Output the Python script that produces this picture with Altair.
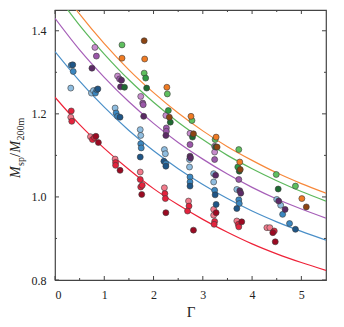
import altair as alt
import pandas as pd

# ---------------- data ----------------
curve_gamma = [0.0, 0.5, 1.0, 1.5, 2.0, 2.5, 3.0, 3.5, 4.0, 4.5, 5.0, 5.5]
curve_red    = [1.240, 1.174, 1.117, 1.066, 1.020, 0.981, 0.946, 0.915, 0.887, 0.863, 0.842, 0.823]
curve_blue   = [1.350, 1.279, 1.216, 1.160, 1.111, 1.068, 1.030, 0.996, 0.966, 0.940, 0.917, 0.896]
curve_purple = [1.430, 1.354, 1.288, 1.229, 1.177, 1.131, 1.091, 1.055, 1.023, 0.995, 0.971, 0.949]
curve_green  = [1.492, 1.413, 1.344, 1.282, 1.228, 1.180, 1.138, 1.100, 1.068, 1.039, 1.013, 0.990]
curve_orange = [1.520, 1.440, 1.369, 1.306, 1.251, 1.202, 1.159, 1.121, 1.088, 1.058, 1.032, 1.009]

red_g = [0.33, 0.32, 0.34, 0.72, 0.76, 0.80, 0.83, 0.88, 1.22, 1.23, 1.23, 1.32,
         1.73, 1.73, 1.74, 1.77, 1.76, 2.22, 2.23, 2.24, 2.25, 2.71, 2.72, 2.69, 2.81,
         3.22, 3.22, 3.24, 3.23, 3.27, 3.69, 3.72, 3.73, 3.79, 4.30, 4.36, 4.45, 4.42, 4.47]
red_v = [1.207, 1.192, 1.182, 1.145, 1.138, 1.143, 1.146, 1.131, 1.091, 1.083, 1.076, 1.064,
         1.060, 1.042, 1.024, 1.028, 1.006, 1.022, 1.008, 0.996, 0.962, 0.990, 0.978, 0.966, 0.920,
         0.970, 0.956, 0.941, 0.934, 0.962, 0.942, 0.934, 0.928, 0.940, 0.926, 0.926, 0.918, 0.914, 0.892]
red_s = ["m", "l", "m", "l", "m", "m", "d", "d", "l", "m", "m", "d",
         "l", "m", "m", "m", "d", "l", "m", "m", "d", "l", "m", "m", "d",
         "l", "l", "m", "m", "d", "l", "m", "m", "d", "l", "l", "m", "d", "d"]

blue_g = [0.32, 0.33, 0.36, 0.37, 0.74, 0.78, 0.82, 0.85, 0.87, 1.22, 1.24, 1.27, 1.32,
          1.73, 1.74, 1.74, 1.75, 1.73, 2.22, 2.24, 2.21, 2.25, 2.25, 2.73, 2.73, 2.74, 2.74, 2.74,
          3.22, 3.22, 3.24, 3.25, 3.27, 3.69, 3.73, 3.74, 3.69, 4.50, 4.58, 4.62, 4.76, 4.88]
blue_v = [1.262, 1.317, 1.318, 1.302, 1.250, 1.256, 1.250, 1.258, 1.260, 1.214, 1.202, 1.194, 1.192,
          1.162, 1.148, 1.128, 1.118, 1.096, 1.114, 1.104, 1.086, 1.080, 1.074, 1.090, 1.072, 1.048, 1.036, 1.026,
          1.056, 1.036, 1.016, 1.005, 0.982, 1.018, 0.993, 0.984, 0.972, 0.994, 0.980, 0.958, 0.936, 0.922]
blue_s = ["l", "m", "d", "m", "l", "l", "m", "m", "d", "l", "m", "m", "d",
          "l", "l", "m", "m", "d", "l", "l", "d", "m", "d", "l", "l", "m", "m", "d",
          "l", "l", "m", "d", "d", "l", "m", "m", "d", "l", "l", "m", "m", "d"]

purple_g = [0.81, 0.84, 0.75, 1.27, 1.31, 1.35, 1.33, 1.74, 1.78, 1.79, 1.80,
            2.25, 2.26, 2.26, 2.25, 2.74, 2.74, 2.74, 2.75, 3.24, 3.24, 3.24, 3.26,
            3.73, 3.75, 3.77, 4.54, 4.67]
purple_v = [1.360, 1.339, 1.310, 1.291, 1.284, 1.281, 1.265, 1.242, 1.226, 1.222, 1.194,
            1.196, 1.166, 1.158, 1.148, 1.153, 1.126, 1.098, 1.094, 1.122, 1.108, 1.090, 1.052,
            1.042, 1.015, 1.009, 0.990, 0.970]
purple_s = ["l", "m", "d", "l", "m", "d", "d", "l", "m", "m", "d",
            "l", "m", "m", "d", "l", "m", "d", "d", "l", "l", "m", "d",
            "m", "d", "d", "d", "d"]

green_g = [1.36, 1.41, 1.81, 1.84, 1.86, 2.28, 2.30, 2.34, 2.78, 2.79, 3.25, 3.26,
           3.73, 3.71, 3.74, 4.49, 4.53, 4.88]
green_v = [1.366, 1.264, 1.298, 1.286, 1.262, 1.248, 1.208, 1.180, 1.184, 1.144, 1.138, 1.120,
           1.114, 1.072, 1.062, 1.054, 1.019, 1.026]
green_s = ["l", "d", "l", "m", "d", "l", "m", "d", "l", "d", "l", "d",
           "l", "m", "d", "l", "d", "l"]

orange_g = [1.81, 1.82, 1.36, 2.27, 2.32, 2.76, 2.81, 3.27, 3.29, 3.75, 3.76, 5.01, 5.10]
orange_v = [1.376, 1.332, 1.334, 1.264, 1.192, 1.194, 1.152, 1.144, 1.120, 1.084, 1.066, 0.996, 0.976]
orange_s = ["d", "l", "l", "l", "d", "l", "d", "l", "d", "l", "d", "l", "d"]

x_major = [0, 1, 2, 3, 4, 5]
x_minor = [0.5, 1.5, 2.5, 3.5, 4.5]
y_major = [0.8, 1.0, 1.2, 1.4]
y_minor = [0.9, 1.1, 1.3]

# ---------------- styles ----------------
line_colors = {"red": "#ee2238", "blue": "#4a8fc8", "purple": "#a65fb8",
               "green": "#5cb85c", "orange": "#f7883a"}
shade_colors = {
    "red": {"l": "#f27b8c", "m": "#e3233d", "d": "#9b0a22"},
    "blue": {"l": "#8fbde0", "m": "#3b87c0", "d": "#1f5687"},
    "purple": {"l": "#c68bcc", "m": "#9b57a9", "d": "#5c2a66"},
    "green": {"l": "#5fbf5f", "m": "#2f9a43", "d": "#1f6a32"},
    "orange": {"l": "#ef7b24", "m": "#ef7b24", "d": "#8c4413"},
}

rows = []
for name, vals in [("red", curve_red), ("blue", curve_blue), ("purple", curve_purple),
                   ("green", curve_green), ("orange", curve_orange)]:
    for g, v in zip(curve_gamma, vals):
        rows.append({"g": g, "v": v, "curve": name, "col": line_colors[name]})
curve_df = pd.DataFrame(rows)

prow = []
for name, gs, vs, ss in [("red", red_g, red_v, red_s), ("blue", blue_g, blue_v, blue_s),
                         ("purple", purple_g, purple_v, purple_s),
                         ("green", green_g, green_v, green_s),
                         ("orange", orange_g, orange_v, orange_s)]:
    for g, v, s in zip(gs, vs, ss):
        prow.append({"g": g, "v": v, "col": shade_colors[name][s]})
pts_df = pd.DataFrame(prow)

FONT = "Liberation Serif"
W, H = 271, 270
xs = alt.Scale(domain=[0, 5.5], nice=False, zero=False)
ys = alt.Scale(domain=[0.8, 1.45], nice=False, zero=False)

x_axis = alt.Axis(title="Γ", values=x_major, format="d", ticks=False, domain=False, grid=False,
                  labelFont=FONT, labelFontSize=12, labelColor="#222", labelPadding=9,
                  titleFont=FONT, titleFontSize=15, titleFontWeight="normal", titleColor="#222",
                  titlePadding=4)
y_axis = alt.Axis(title=None, values=y_major, format=".1f", ticks=False, domain=False, grid=False,
                  labelFont=FONT, labelFontSize=12, labelColor="#222", labelPadding=9)

lines = alt.Chart(curve_df).mark_line(clip=True, interpolate="monotone", strokeWidth=1.2).encode(
    x=alt.X("g:Q", scale=xs, axis=x_axis),
    y=alt.Y("v:Q", scale=ys, axis=y_axis),
    color=alt.Color("col:N", scale=None),
    detail="curve:N",
)

points = alt.Chart(pts_df).mark_circle(size=36, stroke="#3a3a3a", strokeWidth=0.6, opacity=1).encode(
    x=alt.X("g:Q", scale=xs),
    y=alt.Y("v:Q", scale=ys),
    fill=alt.Fill("col:N", scale=None),
)

tick_col = "#444444"
xmaj = pd.DataFrame({"t": x_major})
xmin = pd.DataFrame({"t": x_minor})
ymaj = pd.DataFrame({"t": y_major})
ymin = pd.DataFrame({"t": y_minor})

def xticks(df, length):
    b = alt.Chart(df).mark_rule(color=tick_col, strokeWidth=1).encode(
        x=alt.X("t:Q", scale=xs), y=alt.value(H), y2=alt.value(H - length))
    t = alt.Chart(df).mark_rule(color=tick_col, strokeWidth=1).encode(
        x=alt.X("t:Q", scale=xs), y=alt.value(0), y2=alt.value(length))
    return b + t

def yticks(df, length):
    l = alt.Chart(df).mark_rule(color=tick_col, strokeWidth=1).encode(
        y=alt.Y("t:Q", scale=ys), x=alt.value(0), x2=alt.value(length))
    r = alt.Chart(df).mark_rule(color=tick_col, strokeWidth=1).encode(
        y=alt.Y("t:Q", scale=ys), x=alt.value(W), x2=alt.value(W - length))
    return l + r

# y-axis title pieces: M_sp / M_200m (rotated)
title_pieces = [
    ("M", 14, "italic", -35, 168),
    ("sp", 10, "normal", -31.5, 156),
    ("/", 14, "normal", -35, 147),
    ("M", 14, "italic", -35, 142.5),
    ("200m", 10, "normal", -31.5, 130.5),
]
title_layers = []
for txt, fs, style, px, py in title_pieces:
    title_layers.append(
        alt.Chart(pd.DataFrame({"t": [txt]})).mark_text(
            angle=270, align="left", baseline="alphabetic", font=FONT, fontSize=fs,
            fontStyle=style, color="#222").encode(
            text="t:N", x=alt.value(px), y=alt.value(py))
    )

chart = alt.layer(
    lines, points,
    xticks(xmaj, 4), xticks(xmin, 2), yticks(ymaj, 4), yticks(ymin, 2),
    *title_layers,
).properties(
    width=W, height=H,
    padding={"left": 47, "top": 2, "right": 10, "bottom": 46},
    autosize=alt.AutoSizeParams(type="none"),
).configure_view(stroke="#444444", strokeWidth=1.2)

chart.save("out.html", embed_options={"renderer": "svg", "actions": False})
